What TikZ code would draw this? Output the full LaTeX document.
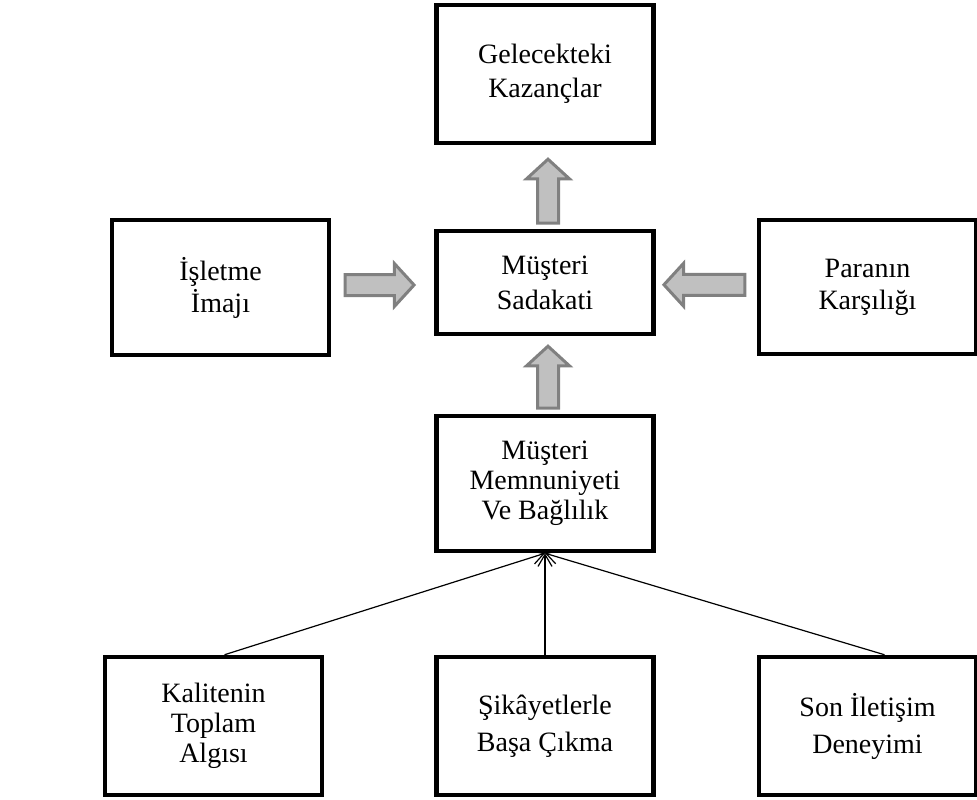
\documentclass[tikz,border=0pt]{standalone}
\usepackage{fontspec}
\setmainfont{Liberation Serif}
\usepackage{xcolor}
\usepackage{tikz}
\usetikzlibrary{arrows.meta,shapes.arrows,calc}
\definecolor{arrowfill}{RGB}{192,192,192}
\definecolor{arrowedge}{RGB}{128,128,128}
\newcommand{\boxfont}{\fontsize{28}{32}\selectfont}
\tikzset{
  box/.style={draw, line width=4.5pt, minimum width=217pt, inner sep=0pt,
              align=center, font=\boxfont},
  fatarrow/.style={single arrow, draw=arrowedge, fill=arrowfill, line width=3pt,
              inner xsep=0pt, inner ysep=9pt, single arrow head extend=11pt,
              single arrow tip angle=95, single arrow head indent=0pt},
  thinarrow/.style={-{Straight Barb[length=12pt,width=14pt]}, line width=1.2pt},
}
\begin{document}
\begin{tikzpicture}[x=1pt,y=-1pt]
  \useasboundingbox (0,0) rectangle (977,800);
  \node[box, minimum height=138pt] (fut) at (545,74)    {Gelecekteki\\[2pt]Kazançlar};
  \node[box, minimum height=103pt] (sad) at (545,282.5) {Müşteri\\[3pt]Sadakati};
  \node[box, minimum height=135pt] (img) at (220.5,287.5) {İşletme\\İmajı};
  \node[box, minimum height=134pt] (par) at (867.5,287) {Paranın\\Karşılığı};
  \node[box, minimum height=135pt] (mem) at (545,483.5) {Müşteri\\[-2pt]Memnuniyeti\\[-2pt]Ve Bağlılık};
  \node[box, minimum height=138pt] (kal) at (213.5,726) {Kalitenin\\[-2pt]Toplam\\[-2pt]Algısı};
  \node[box, minimum height=138pt] (sik) at (545,726)   {Şikâyetlerle\\[5pt]Başa Çıkma};
  \node[box, minimum height=138pt] (son) at (867.5,726) {Son İletişim\\[5pt]Deneyimi};
  \node[fatarrow, minimum height=64pt, rotate=90] (a1) at ($(fut.south)!0.5!(sad.north)+(3,9)$) {};
  \node[fatarrow, minimum height=69pt] (a2) at ($(img.east)!0.5!(sad.west)+(-8,0)$) {};
  \node[fatarrow, minimum height=81pt, rotate=180] (a3) at ($(sad.east)!0.5!(par.west)+(3,0)$) {};
  \node[fatarrow, minimum height=62pt, rotate=90] (a4) at ($(sad.south)!0.5!(mem.north)+(3,7)$) {};
  \draw[thinarrow] ([xshift=11pt]kal.north) -- (mem.south);
  \draw[thinarrow] (sik.north) -- (mem.south);
  \draw[thinarrow] ([xshift=17pt]son.north) -- (mem.south);
\end{tikzpicture}
\end{document}
